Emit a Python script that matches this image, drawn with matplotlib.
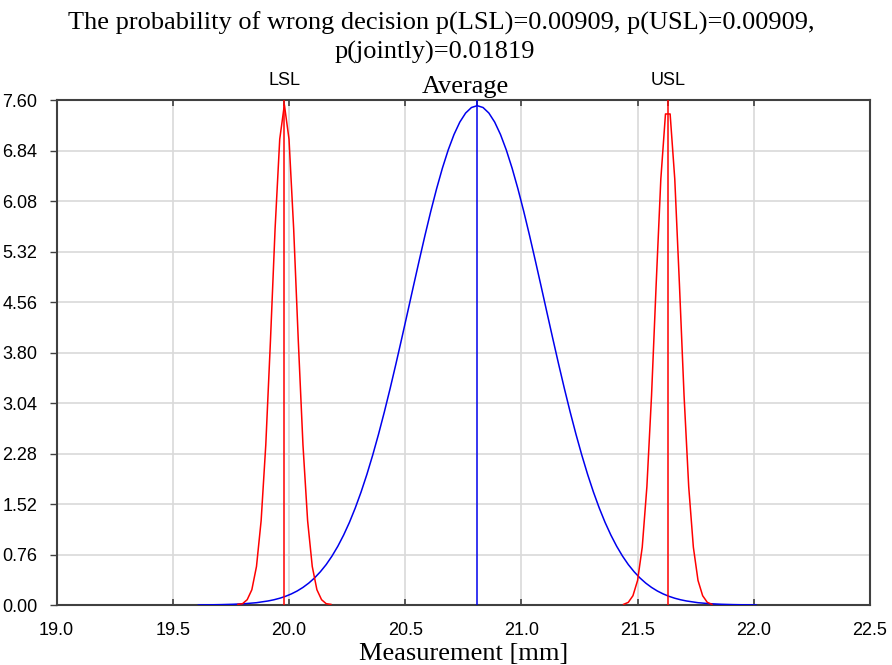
"""Probability of wrong decision: measurement spread vs. specification limits."""

import matplotlib

matplotlib.use("Agg")
import matplotlib.pyplot as plt

# Values
LSL = 19.98
AVERAGE = 20.81
USL = 21.63

avg_x = [19.61, 19.66, 19.71, 19.76, 19.81, 19.86, 19.91, 19.935, 19.96, 19.985,
         20.01, 20.035, 20.06, 20.085, 20.11, 20.135, 20.16, 20.185, 20.21, 20.235,
         20.26, 20.285, 20.31, 20.335, 20.36, 20.385, 20.41, 20.435, 20.46, 20.485,
         20.51, 20.535, 20.56, 20.585, 20.61, 20.635, 20.66, 20.685, 20.71, 20.735,
         20.76, 20.785, 20.81,
         20.835, 20.86, 20.885, 20.91, 20.935, 20.96, 20.985, 21.01, 21.035, 21.06,
         21.085, 21.11, 21.135, 21.16, 21.185, 21.21, 21.235, 21.26, 21.285, 21.31,
         21.335, 21.36, 21.385, 21.41, 21.435, 21.46, 21.485, 21.51, 21.535, 21.56,
         21.585, 21.61, 21.635, 21.66, 21.685, 21.71, 21.76, 21.81, 21.86, 21.91,
         21.96, 22.01]
avg_y = [0.001, 0.003, 0.006, 0.011, 0.020, 0.035, 0.061, 0.079, 0.102, 0.131,
         0.167, 0.211, 0.265, 0.330, 0.408, 0.501, 0.609, 0.737, 0.884, 1.053,
         1.244, 1.460, 1.700, 1.965, 2.255, 2.568, 2.903, 3.257, 3.628, 4.011,
         4.401, 4.794, 5.182, 5.562, 5.925, 6.264, 6.574, 6.848, 7.081, 7.268,
         7.404, 7.487, 7.515,
         7.487, 7.404, 7.268, 7.081, 6.848, 6.574, 6.264, 5.925, 5.562, 5.182,
         4.794, 4.401, 4.011, 3.628, 3.257, 2.903, 2.568, 2.255, 1.965, 1.700,
         1.460, 1.244, 1.053, 0.884, 0.737, 0.609, 0.501, 0.408, 0.330, 0.265,
         0.211, 0.167, 0.131, 0.102, 0.079, 0.061, 0.035, 0.020, 0.011, 0.006,
         0.003, 0.001]

lsl_x = [19.78, 19.80, 19.82, 19.84, 19.86, 19.88, 19.90, 19.92, 19.94, 19.96,
         19.98, 20.00, 20.02, 20.04, 20.06, 20.08, 20.10, 20.12, 20.14, 20.16,
         20.18]
lsl_y = [0.01, 0.02, 0.08, 0.23, 0.58, 1.27, 2.41, 3.97, 5.66, 7.01,
         7.53, 7.01, 5.66, 3.97, 2.41, 1.27, 0.58, 0.23, 0.08, 0.02,
         0.01]

usl_x = [21.44, 21.46, 21.48, 21.50, 21.52, 21.54, 21.56, 21.58, 21.60, 21.62,
         21.64, 21.66, 21.68, 21.70, 21.72, 21.74, 21.76, 21.78, 21.80, 21.82]
usl_y = [0.01, 0.04, 0.14, 0.37, 0.87, 1.78, 3.15, 4.83, 6.41, 7.39,
         7.39, 6.41, 4.83, 3.15, 1.78, 0.87, 0.37, 0.14, 0.04, 0.01]

x_ticks = [19.0, 19.5, 20.0, 20.5, 21.0, 21.5, 22.0, 22.5]
y_ticks = [0.00, 0.76, 1.52, 2.28, 3.04, 3.80, 4.56, 5.32, 6.08, 6.84, 7.60]

title_lines = ["The probability of wrong decision p(LSL)=0.00909, p(USL)=0.00909,",
               "p(jointly)=0.01819"]

SANS = "Liberation Sans"
SERIF = "Liberation Serif"
SPINE = "#404040"
GRID = "#d9d9d9"

fig = plt.figure(figsize=(8.92, 6.65), dpi=100)
ax = fig.add_axes([0.0635, 0.0902, 0.9118, 0.7594])

ax.plot(avg_x, avg_y, color="#0000ee", lw=1.1, zorder=3)
ax.plot(lsl_x, lsl_y, color="#ff0000", lw=1.1, zorder=3)
ax.plot(usl_x, usl_y, color="#ff0000", lw=1.1, zorder=3)
ax.axvline(LSL, color="#ff0000", lw=1.1, zorder=3)
ax.axvline(USL, color="#ff0000", lw=1.1, zorder=3)
ax.axvline(AVERAGE, color="#0000ee", lw=1.1, zorder=3)

ax.set_xlim(x_ticks[0], x_ticks[-1])
ax.set_ylim(y_ticks[0], y_ticks[-1])
ax.set_xticks(x_ticks, [f"{v:.1f}" for v in x_ticks])
ax.set_yticks(y_ticks, [f"{v:.2f}" for v in y_ticks])
ax.grid(True, color=GRID, lw=1.2, zorder=0)
ax.set_axisbelow(True)

ax.tick_params(axis="x", direction="in", top=True, length=4, width=1.2,
               color=SPINE, pad=12, labelsize=13)
ax.tick_params(axis="y", direction="out", length=5, width=1.0,
               color=SPINE, pad=9, labelsize=13)
for lab in ax.get_xticklabels() + ax.get_yticklabels():
    lab.set_fontfamily(SANS)
for spine in ax.spines.values():
    spine.set_color(SPINE)
    spine.set_linewidth(1.5)

# extra top ticks for the limits and the mean
top = ax.secondary_xaxis("top")
top.set_xticks([LSL, AVERAGE, USL], ["", "", ""])
top.tick_params(direction="in", length=4, width=1.2, color=SPINE)
top.spines["top"].set_visible(False)

ax.text(LSL, 7.60 + 0.29, "LSL", ha="center", va="center",
        fontsize=13, family=SANS)
ax.text(USL, 7.60 + 0.29, "USL", ha="center", va="center",
        fontsize=13, family=SANS)
ax.text(AVERAGE - 0.05, 7.60 + 0.10, "Average", ha="center", va="baseline",
        fontsize=19, family=SERIF)

ax.set_xlabel("Measurement [mm]", fontsize=19, family=SERIF, labelpad=3)

# two-line title, baselines placed separately
fig.text(0.495, 1 - 30 / 665, title_lines[0], ha="center", va="baseline",
         fontsize=19, family=SERIF)
fig.text(0.487, 1 - 59 / 665, title_lines[1], ha="center", va="baseline",
         fontsize=19, family=SERIF)

fig.savefig("out.png", dpi=100)
